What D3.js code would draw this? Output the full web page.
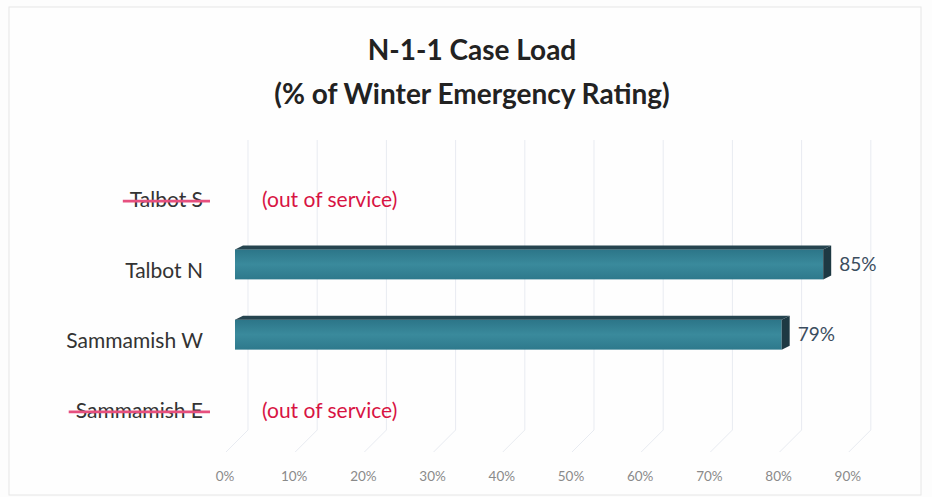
<!DOCTYPE html>
<meta charset="utf-8">
<script src="https://d3js.org/d3.v7.min.js"></script>
<style>
  body { margin: 0; background: #fdfdfd; }
  svg { font-family: Lato, "Open Sans", sans-serif; }
</style>
<body>
<div id="chart"></div>
<script>
  // chart data
  var categories = ["Talbot S", "Talbot N", "Sammamish W", "Sammamish E"];
  var loads = [null, 0.85, 0.79, null];        // null = out of service
  var inService = [false, true, true, false];
  var tickValues = [0, 0.1, 0.2, 0.3, 0.4, 0.5, 0.6, 0.7, 0.8, 0.9];
  var titleLines = ["N-1-1 Case Load", "(% of Winter Emergency Rating)"];

  var width = 932, height = 497;
  var depthX = 8, depthY = 4;   // 3d offset of the bars

  var svg = d3.select("#chart").append("svg")
      .attr("width", width)
      .attr("height", height);

  // scanned page frame
  svg.append("rect")
      .attr("x", 9).attr("y", 7)
      .attr("width", 912).attr("height", 488)
      .attr("fill", "#fefefe")
      .attr("stroke", "#e6e6e6");

  var x = d3.scaleLinear().domain([0, 1]).range([235, 927]);
  var y = d3.scaleBand().domain(categories).range([165, 446]);

  // back wall grid + floor
  var grid = svg.append("g").attr("stroke", "#e8ebf1").attr("fill", "none");
  tickValues.forEach(function(t) {
    var gx = x(t) + 13;
    grid.append("path")
        .attr("d", "M" + gx + ",140 L" + gx + ",430 L" + (gx - 22) + ",452");
  });

  // x tick labels
  svg.append("g").selectAll("text")
    .data(tickValues)
    .join("text")
      .attr("x", d => x(d) - 10)
      .attr("y", 481)
      .attr("text-anchor", "middle")
      .attr("font-size", 13.5)
      .attr("fill", "#8a8a8a")
      .text(d3.format(".0%"));

  // gradient for the bar front
  var grad = svg.append("defs").append("linearGradient")
      .attr("id", "barFront").attr("x1", 0).attr("x2", 0).attr("y1", 0).attr("y2", 1);
  grad.append("stop").attr("offset", "0%").attr("stop-color", "#2c7588");
  grad.append("stop").attr("offset", "50%").attr("stop-color", "#3a8a9c");
  grad.append("stop").attr("offset", "100%").attr("stop-color", "#2e798c");

  var rows = categories.map((c, i) => ({cat: c, v: loads[i], ok: inService[i]}));

  // category labels
  var lab = svg.append("g").selectAll("g")
    .data(rows)
    .join("g")
      .attr("transform", d => "translate(203," + (y(d.cat) + y.bandwidth() / 2) + ")");

  lab.append("text")
      .attr("text-anchor", "end")
      .attr("dy", "0.35em")
      .attr("font-size", 21)
      .attr("fill", "#333")
      .text(d => d.cat)
      .each(function(d) {
        if (d.ok) return;
        var w = this.getComputedTextLength();
        d3.select(this.parentNode).append("line")
            .attr("x1", -w - 7).attr("x2", 7)
            .attr("y1", 1).attr("y2", 1)
            .attr("stroke", "#e6507f")
            .attr("stroke-width", 2.6);
      });

  lab.filter(d => !d.ok).append("text")
      .attr("x", 59)
      .attr("dy", "0.35em")
      .attr("font-size", 21)
      .attr("fill", "#d81443")
      .text("(out of service)");

  // 3d bars
  var bars = svg.append("g").selectAll("g")
    .data(rows.filter(d => d.ok))
    .join("g");

  var bh = 30;
  function barTop(d) { return y(d.cat) + y.bandwidth() / 2 - 6 - bh / 2; }

  bars.append("rect")
      .attr("x", x(0))
      .attr("y", d => barTop(d))
      .attr("width", d => x(d.v) - x(0))
      .attr("height", bh)
      .attr("fill", "url(#barFront)");

  bars.append("path")
      .attr("fill", "#25444f")
      .attr("d", d => {
        var t = barTop(d), x0 = x(0), x1 = x(d.v);
        return "M" + x0 + "," + t + " L" + (x0 + depthX) + "," + (t - depthY) +
               " L" + (x1 + depthX) + "," + (t - depthY) + " L" + x1 + "," + t + "Z";
      });

  bars.append("path")
      .attr("fill", "#1e3943")
      .attr("d", d => {
        var t = barTop(d), x1 = x(d.v);
        return "M" + x1 + "," + t + " L" + (x1 + depthX) + "," + (t - depthY) +
               " L" + (x1 + depthX) + "," + (t + bh - depthY) + " L" + x1 + "," + (t + bh) + "Z";
      });

  // value labels
  bars.append("text")
      .attr("x", d => x(d.v) + depthX + 8)
      .attr("y", d => barTop(d) + bh / 2)
      .attr("dy", "0.35em")
      .attr("font-size", 19)
      .attr("fill", "#3b4d5e")
      .text(d => d3.format(".0%")(d.v));

  // title
  svg.append("g").selectAll("text")
    .data(titleLines)
    .join("text")
      .attr("x", 472)
      .attr("y", (d, i) => 60 + i * 44)
      .attr("text-anchor", "middle")
      .attr("font-size", 28)
      .attr("font-weight", "bold")
      .attr("fill", "#222")
      .text(d => d);
</script>
</body>
